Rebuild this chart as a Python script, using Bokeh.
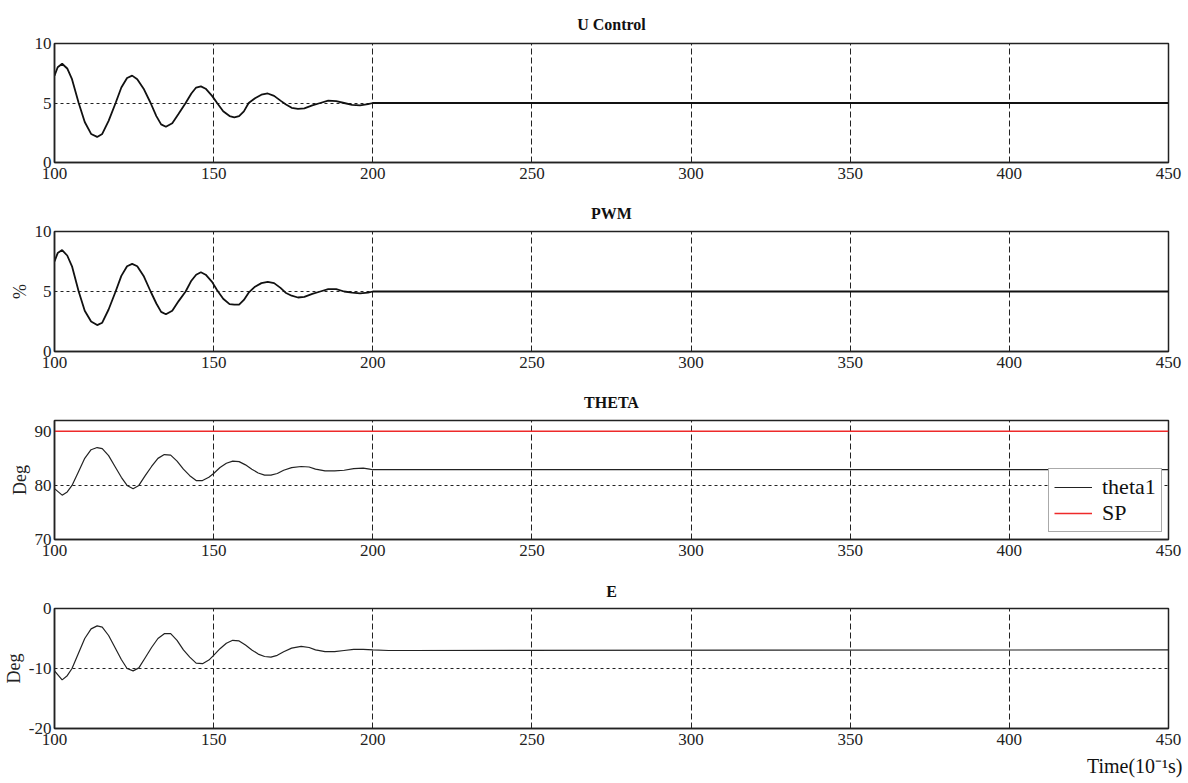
from bokeh.plotting import figure
from bokeh.layouts import column
from bokeh.models import FixedTicker, Title, Legend, LegendItem
from bokeh.embed import file_html
from bokeh.resources import INLINE

# ---------------- data ----------------
x_ticks = [100, 150, 200, 250, 300, 350, 400, 450]

u_t = [100, 101, 102.4, 104, 105.5, 107.6, 109.5, 111.5, 113.4, 115, 117, 119.2, 121, 122.8,
       124.4, 126, 128, 130.2, 132, 133.5, 135, 137, 139, 141.2, 143, 144.5, 146, 147.5,
       149.5, 151.1, 153, 155, 156.5, 158, 159.5, 161, 163, 165, 167, 169, 171, 172.6,
       174.5, 176.5, 178.5, 181, 183.5, 186, 188.5, 191, 193.5, 196, 198.5, 200, 450]
u_v = [7.3, 8.0, 8.3, 7.9, 7.0, 5.0, 3.4, 2.4, 2.15, 2.4, 3.5, 5.0, 6.3, 7.1,
       7.3, 7.0, 6.2, 5.0, 3.9, 3.2, 3.0, 3.3, 4.1, 5.0, 5.8, 6.3, 6.4, 6.2,
       5.6, 5.0, 4.3, 3.9, 3.8, 3.9, 4.3, 5.0, 5.4, 5.7, 5.8, 5.6, 5.2, 4.9,
       4.6, 4.5, 4.55, 4.8, 5.0, 5.2, 5.15, 5.0, 4.85, 4.8, 4.9, 5.0, 5.0]

pwm_t = [100, 101, 102.4, 104, 105.5, 107.6, 109.5, 111.5, 113.4, 115, 117, 119.2, 121, 122.8,
         124.4, 126, 128, 130.2, 132, 133.5, 135, 137, 139, 141.2, 143, 144.5, 146, 147.5,
         149.5, 151.1, 153, 155, 156.5, 158, 159.5, 161, 163, 165, 167, 169, 171, 172.6,
         174.5, 176.5, 178.5, 181, 183.5, 186, 188.5, 191, 193.5, 196, 198.5, 200, 450]
pwm_v = [7.5, 8.2, 8.45, 8.0, 7.1, 5.0, 3.4, 2.5, 2.2, 2.4, 3.5, 5.0, 6.3, 7.1,
         7.3, 7.1, 6.3, 5.0, 4.0, 3.3, 3.1, 3.4, 4.2, 5.0, 5.9, 6.4, 6.6, 6.4,
         5.8, 5.1, 4.4, 3.95, 3.9, 3.9, 4.3, 4.9, 5.4, 5.7, 5.8, 5.7, 5.3, 4.9,
         4.65, 4.5, 4.55, 4.8, 5.0, 5.2, 5.2, 5.0, 4.9, 4.85, 4.9, 5.0, 5.0]

theta_t = [100, 102.4, 104, 105.5, 107.5, 109.5, 111.5, 113.4, 115, 117, 119, 121, 122.8,
           124.7, 126.5, 128.5, 130.5, 132.5, 134.5, 136.5, 138.5, 140.5, 142.5, 144.5,
           146.5, 148.5, 150, 152, 154, 156, 158, 160, 162, 164, 166, 168, 170, 172,
           174.5, 177.5, 180, 182, 185, 188, 191, 194, 197, 199, 200, 450]
theta_v = [79.4, 78.2, 78.8, 80.0, 82.5, 85.0, 86.6, 87.0, 86.8, 85.5, 83.5, 81.5, 80.0,
           79.4, 80.0, 81.8, 83.5, 85.0, 85.7, 85.6, 84.5, 83.0, 81.8, 80.9,
           80.9, 81.5, 82.2, 83.3, 84.1, 84.5, 84.4, 83.8, 83.0, 82.3, 81.9, 81.9, 82.2, 82.8,
           83.3, 83.5, 83.4, 83.0, 82.7, 82.7, 82.8, 83.1, 83.2, 83.0, 82.9, 82.9]
sp_t = [100, 450]
sp_v = [90, 90]

e_t = [100, 102.4, 104, 105.5, 107.5, 109.5, 111.5, 113.4, 115, 117, 119, 121, 122.8,
       124.7, 126.5, 128.5, 130.5, 132.5, 134.5, 136.5, 138.5, 140.5, 142.5, 144.5,
       146.5, 148.5, 150, 152, 154, 156, 158, 160, 162, 164, 166, 168, 170, 172,
       174.5, 177.5, 180, 182, 185, 188, 191, 194, 197, 200, 205, 212, 450]
e_v = [-10.4, -11.9, -11.2, -10.0, -7.5, -5.0, -3.4, -2.9, -3.1, -4.5, -6.5, -8.5, -10.0,
       -10.4, -9.9, -8.2, -6.5, -5.0, -4.2, -4.2, -5.3, -6.9, -8.1, -9.1,
       -9.2, -8.6, -7.8, -6.7, -5.8, -5.3, -5.4, -6.1, -6.9, -7.6, -8.0, -8.1, -7.8, -7.2,
       -6.6, -6.3, -6.5, -6.9, -7.2, -7.2, -7.0, -6.8, -6.8, -6.9, -7.0, -7.0, -6.9]

# ---------------- styling ----------------
SERIF = "Liberation Serif"
NARROW = "Liberation Sans Narrow"
W = 1188
FRAME_L, FRAME_R = 54, 20


def make_fig(title, ylo, yhi, yticks, height, top, bottom, ylabel=None):
    p = figure(width=W, height=height, x_range=(100, 450), y_range=(ylo, yhi),
               output_backend="svg", toolbar_location=None,
               min_border_left=FRAME_L, min_border_right=FRAME_R,
               min_border_top=top, min_border_bottom=bottom)
    p.title.text = title
    p.title.align = "center"
    p.title.text_font = SERIF
    p.title.text_font_style = "bold"
    p.title.text_font_size = "16px"
    p.title.text_color = "#111111"
    p.title.standoff = top - 21
    p.outline_line_color = "#222222"
    p.outline_line_width = 1.5
    p.background_fill_color = "white"
    p.border_fill_color = "white"
    for ax in (p.xaxis[0], p.yaxis[0]):
        ax.axis_line_color = "#222222"
        ax.axis_line_width = 1.5
        ax.major_tick_in = 0
        ax.major_tick_out = 0
        ax.minor_tick_in = 0
        ax.minor_tick_out = 0
        ax.major_label_text_font = NARROW
        ax.major_label_text_font_size = "17px"
        ax.major_label_text_color = "#222222"
    p.xaxis.ticker = FixedTicker(ticks=x_ticks)
    p.yaxis.ticker = FixedTicker(ticks=yticks)
    p.yaxis.major_label_overrides = {t: str(t) for t in yticks}
    p.xaxis.major_label_standoff = 5
    p.yaxis.major_label_standoff = 3
    if ylabel:
        p.yaxis.axis_label = ylabel
        p.yaxis.axis_label_text_font = SERIF
        p.yaxis.axis_label_text_font_style = "normal"
        p.yaxis.axis_label_text_font_size = "18px"
        p.yaxis.axis_label_standoff = 2
        p.yaxis.axis_label_text_color = "#222222"
    p.xgrid.ticker = FixedTicker(ticks=x_ticks[1:-1])
    p.xgrid.grid_line_color = "#222222"
    p.xgrid.grid_line_dash = "6 3"
    p.xgrid.grid_line_width = 1
    mid = [yticks[1]]
    p.ygrid.ticker = FixedTicker(ticks=mid)
    p.ygrid.grid_line_color = "#222222"
    p.ygrid.grid_line_dash = "3 3"
    p.ygrid.grid_line_width = 1
    return p


p1 = make_fig("U Control", 0, 10, [0, 5, 10], 190, 43, 28)
p1.line(u_t, u_v, line_color="#111111", line_width=1.8)

p2 = make_fig("PWM", 0, 10, [0, 5, 10], 190, 41, 29, ylabel="%")
p2.line(pwm_t, pwm_v, line_color="#111111", line_width=1.8)

p3 = make_fig("THETA", 70, 92, [70, 80, 90], 190, 40, 31, ylabel="Deg")
r_theta = p3.line(theta_t, theta_v, line_color="#222222", line_width=1.2)
r_sp = p3.line(sp_t, sp_v, line_color="#ee2a2a", line_width=1.6)
leg = Legend(items=[LegendItem(label="theta1", renderers=[r_theta]),
                    LegendItem(label="SP", renderers=[r_sp])],
             location=(994, 7))
leg.label_text_font = SERIF
leg.label_text_font_size = "22px"
leg.label_text_color = "#111111"
leg.glyph_width = 38
leg.glyph_height = 22
leg.label_height = 22
leg.spacing = 0
leg.padding = 5
leg.margin = 0
leg.label_standoff = 10
leg.border_line_color = "#555555"
leg.border_line_width = 1.2
leg.background_fill_color = "white"
leg.background_fill_alpha = 1.0
p3.add_layout(leg, "center")

p4 = make_fig("E", -20, 0, [-20, -10, 0], 213, 38, 55, ylabel="Deg")
p4.line(e_t, e_v, line_color="#222222", line_width=1.2)
tl = Title(text="Time(10\u207b\u00b9s)", align="right", text_font=SERIF,
           text_font_size="20px", text_font_style="normal", text_color="#111111",
           offset=-14)
p4.add_layout(tl, "below")

layout = column(p1, p2, p3, p4, spacing=0)
open("out.html", "w").write(file_html(layout, INLINE))
